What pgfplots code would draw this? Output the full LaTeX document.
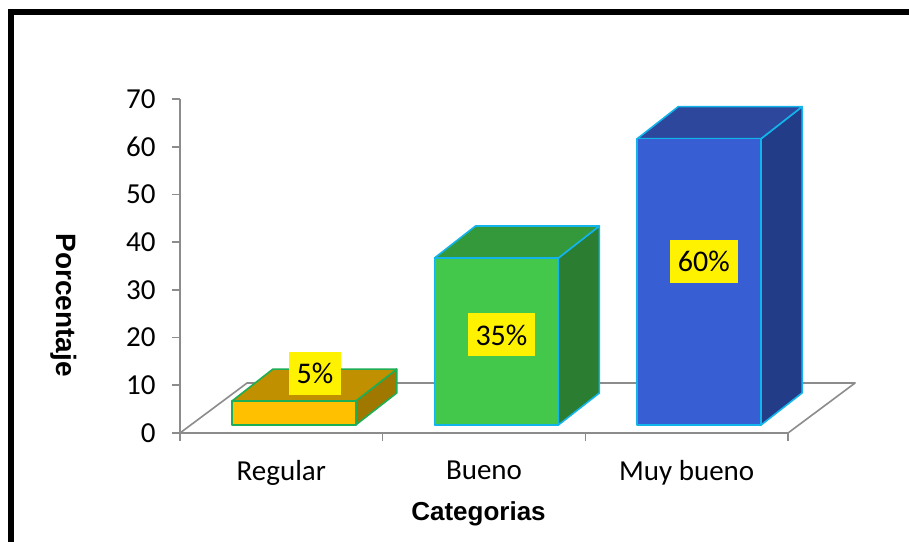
\documentclass[border=0pt]{standalone}
\usepackage{pgfplots}
\pgfplotsset{compat=1.18}
\usepackage{fontspec}
\setmainfont{Carlito}
\newfontfamily\titlefont{Liberation Sans}

\definecolor{axisgray}{HTML}{8C8C8C}
\definecolor{reg-front}{HTML}{FFC000}
\definecolor{reg-top}{HTML}{C09000}
\definecolor{reg-side}{HTML}{A07800}
\definecolor{reg-edge}{HTML}{1EAE55}
\definecolor{bue-front}{HTML}{43C84C}
\definecolor{bue-top}{HTML}{33993A}
\definecolor{bue-side}{HTML}{2B7D32}
\definecolor{bue-edge}{HTML}{12B4EC}
\definecolor{muy-front}{HTML}{375ED2}
\definecolor{muy-top}{HTML}{2C479C}
\definecolor{muy-side}{HTML}{233C87}
\definecolor{muy-edge}{HTML}{12B4EC}

% One 3-D column: #1 category index, #2 value (%), #3 colour prefix,
% #4/#5 position of the value label in axis units
\newcommand{\column}[5]{%
  \pgfmathsetmacro\xa{#1+0.256}%
  \pgfmathsetmacro\xb{#1+0.867}%
  \pgfmathsetmacro\ya{1.68}%
  \pgfmathsetmacro\yt{1.68+#2}%
  \pgfmathsetmacro\xc{\xa+0.2023}%
  \pgfmathsetmacro\xd{\xb+0.2023}%
  \pgfmathsetmacro\yb{\ya+6.707}%
  \pgfmathsetmacro\yu{\yt+6.707}%
  \addplot[fill=#3-side, draw=#3-edge, line width=1.6pt, line join=round]
    coordinates {(\xb,\ya) (\xd,\yb) (\xd,\yu) (\xb,\yt)} --cycle;
  \addplot[fill=#3-top, draw=#3-edge, line width=1.6pt, line join=round]
    coordinates {(\xa,\yt) (\xb,\yt) (\xd,\yu) (\xc,\yu)} --cycle;
  \addplot[fill=#3-front, draw=#3-edge, line width=1.6pt, line join=round]
    coordinates {(\xa,\ya) (\xb,\ya) (\xb,\yt) (\xa,\yt)} --cycle;
  \node[fill=yellow, inner xsep=8pt, inner ysep=0pt, minimum height=43pt,
        font=\fontsize{30}{32}\selectfont]
    at (axis cs:#4,#5) {#2\%};
}

\begin{document}
\begin{tikzpicture}[x=1pt,y=1pt]
\useasboundingbox (0,0) rectangle (909,541);
\clip (0,0) rectangle (909,541);
\fill[white] (0,0) rectangle (909,541);

% outer frame (only left and top edges fall inside the picture)
\draw[line width=5.5pt, line join=miter] (11,-20) -- (11,529) -- (940,529);

\begin{axis}[
  at={(180pt,108pt)}, anchor=south west,
  scale only axis, width=608pt, height=334pt,
  xmin=0, xmax=3, ymin=0, ymax=70,
  clip=false,
  axis lines=left,
  axis line style={-, draw=axisgray, line width=1.6pt},
  tick style={draw=axisgray, line width=1.6pt},
  tick align=outside,
  major tick length=8pt,
  ytick={0,10,...,70},
  xtick={0,1,2,3},
  xticklabels={},
  extra x ticks={0.5,1.5,2.5},
  extra x tick labels={Regular,Bueno,Muy bueno},
  extra x tick style={major tick length=0pt},
  tick label style={font=\fontsize{29}{31}\selectfont},
  /pgf/number format/assume math mode=true,
  yticklabel style={anchor=east, xshift=-13pt},
  xticklabel style={anchor=north, yshift=-24pt},
]
% floor of the 3-D plot
\addplot[draw=axisgray, line width=1.6pt, line join=round]
  coordinates {(0,0) (3,0) (3.331,10.48) (0.331,10.48)} --cycle;

\column{0}{5}{reg}{0.666}{12.47}
\column{1}{35}{bue}{1.586}{20.54}
\column{2}{60}{muy}{2.585}{35.95}
\end{axis}

% axis titles
\node[rotate=-90, font=\titlefont\bfseries\fontsize{28}{30}\selectfont]
  at (64,236) {Porcentaje};
\node[font=\titlefont\bfseries\fontsize{26}{28}\selectfont]
  at (478.5,27) {Categorias};
\end{tikzpicture}
\end{document}
